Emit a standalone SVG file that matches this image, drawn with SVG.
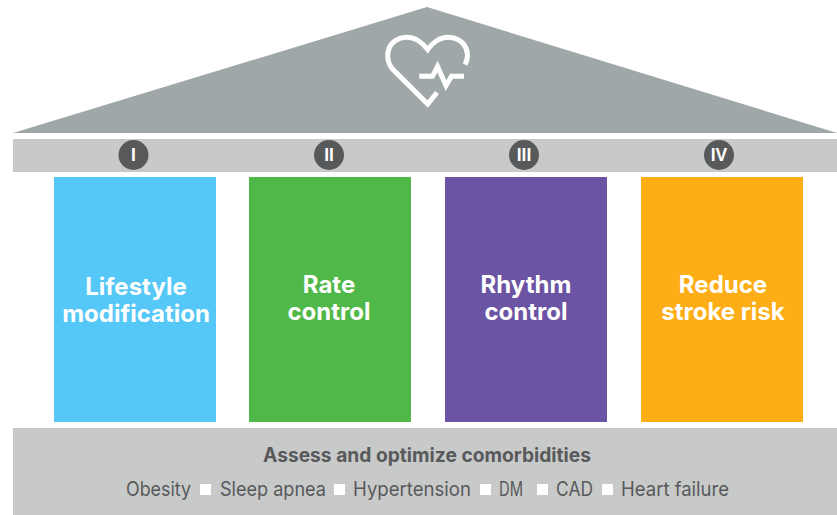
<svg xmlns="http://www.w3.org/2000/svg" width="837" height="515" viewBox="0 0 837 515">
<style>
.pillar{font-family:"Inter","Liberation Sans",sans-serif;font-size:24px;font-weight:700;fill:#fff;text-anchor:middle}
.num{font-family:"Liberation Sans",sans-serif;font-size:17.500px;font-weight:700;fill:#fff;text-anchor:middle}
.badge{fill:#58595b}
.ic{fill:none;stroke:#fff;stroke-width:5;stroke-miterlimit:10}
.sq{fill:#fff}
.b{font-family:"Inter","Liberation Sans",sans-serif;fill:#58595b;font-size:19.500px}
</style>
<rect width="837" height="515" fill="#fff"/>
<g id="roof">
<polygon points="427,7 837,133 13,133" fill="#a0a7a9"/>
<path class="ic" d="M465 64.500C468.500 58 468.500 49.500 463 43.500C456.500 36.500 445 35.500 437 40.500C433 43 430 46 427.700 49.500C425 46 422 43 418 40.500C410 35.500 398 36.500 392 43.500C386 50.500 386.500 62 392.500 69L427.700 104L437 92.500"/>
<path class="ic" d="M419.300 76.300H432.500L437.500 66.500L446 85.500L451.500 76.300H464" stroke-linejoin="miter"/>
</g>
<g id="beam">
<rect x="13" y="139" width="824" height="33" fill="#c8cac9"/>
</g>
<g id="badge-1"><circle class="badge" cx="133.500" cy="155" r="15"/><text class="num" x="133.500" y="161">I</text></g>
<g id="badge-2"><circle class="badge" cx="329" cy="155" r="15"/><text class="num" x="329" y="161">II</text></g>
<g id="badge-3"><circle class="badge" cx="524" cy="155" r="15"/><text class="num" x="524" y="161">III</text></g>
<g id="badge-4"><circle class="badge" cx="719" cy="155" r="15"/><text class="num" x="719" y="161">IV</text></g>
<g id="pillar-1"><rect x="54" y="177" width="162" height="245" fill="#56c8f8"/><text class="pillar" x="136" y="295">Lifestyle</text><text class="pillar" x="136" y="322">modification</text></g>
<g id="pillar-2"><rect x="249" y="177" width="162" height="245" fill="#50b848"/><text class="pillar" x="329" y="293">Rate</text><text class="pillar" x="329" y="320">control</text></g>
<g id="pillar-3"><rect x="445" y="177" width="162" height="245" fill="#6c54a4"/><text class="pillar" x="526" y="293">Rhythm</text><text class="pillar" x="526" y="320">control</text></g>
<g id="pillar-4"><rect x="641" y="177" width="162" height="245" fill="#fdad15"/><text class="pillar" x="723" y="293">Reduce</text><text class="pillar" x="723" y="320">stroke risk</text></g>
<g id="base">
<rect x="13" y="428" width="824" height="87" fill="#c8cac9"/>
<text class="b" x="263" y="462" font-weight="700" textLength="328" lengthAdjust="spacingAndGlyphs">Assess and optimize comorbidities</text>
<text class="b" x="126" y="496" textLength="65" lengthAdjust="spacingAndGlyphs">Obesity</text>
<rect class="sq" x="200" y="484" width="11" height="11"/>
<text class="b" x="220" y="496" textLength="106" lengthAdjust="spacingAndGlyphs">Sleep apnea</text>
<rect class="sq" x="334" y="484" width="11" height="11"/>
<text class="b" x="353" y="496" textLength="118" lengthAdjust="spacingAndGlyphs">Hypertension</text>
<rect class="sq" x="480" y="484" width="11" height="11"/>
<text class="b" x="499" y="496" textLength="24" lengthAdjust="spacingAndGlyphs">DM</text>
<rect class="sq" x="537" y="484" width="11" height="11"/>
<text class="b" x="556" y="496" textLength="37" lengthAdjust="spacingAndGlyphs">CAD</text>
<rect class="sq" x="602" y="484" width="11" height="11"/>
<text class="b" x="621" y="496" textLength="108" lengthAdjust="spacingAndGlyphs">Heart failure</text>
</g>
</svg>
